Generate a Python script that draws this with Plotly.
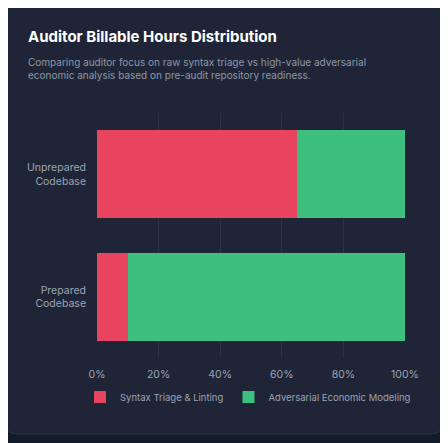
import plotly.graph_objects as go

categories = ["Prepared<br>Codebase", "Unprepared<br>Codebase"]
syntax = [10, 65]
adversarial = [90, 35]
tick_vals = [0, 20, 40, 60, 80, 100]
tick_text = ["0%", "20%", "40%", "60%", "80%", "100%"]

OFF = 8  # page body margin
W, H = 448, 443
L, R, T, B = 97 - OFF, W - 405 + OFF, 113 - OFF, H - 358 + OFF
pw, ph = W - L - R, H - T - B
def px(x): return (x - OFF - L) / pw
def py(y): return 1 - (y - OFF - T) / ph

fig = go.Figure()
fig.add_bar(y=categories, x=syntax, orientation="h", name="Syntax Triage & Linting",
            marker=dict(color="#e8445f", line_width=0))
fig.add_bar(y=categories, x=adversarial, orientation="h", name="Adversarial Economic Modeling",
            marker=dict(color="#3dbf7f", line_width=0))

x0, x1, y0, y1, r = 4, 444, 3, 434, 14
path = (f"M {px(x0+r)} {py(y0)} L {px(x1-r)} {py(y0)} Q {px(x1)} {py(y0)} {px(x1)} {py(y0+r)} "
        f"L {px(x1)} {py(y1-r)} Q {px(x1)} {py(y1)} {px(x1-r)} {py(y1)} "
        f"L {px(x0+r)} {py(y1)} Q {px(x0)} {py(y1)} {px(x0)} {py(y1-r)} "
        f"L {px(x0)} {py(y0+r)} Q {px(x0)} {py(y0)} {px(x0+r)} {py(y0)} Z")
fig.add_shape(type="path", path=path, xref="paper", yref="paper", layer="below",
              fillcolor="#1f2536", line=dict(color="#2a3142", width=1))

fig.add_annotation(text="<b>Auditor Billable Hours Distribution</b>", xref="paper", yref="paper",
                   x=px(26), y=py(36), xanchor="left", yanchor="middle", showarrow=False,
                   font=dict(size=15, color="#ffffff", family="Inter"))
fig.add_annotation(text="Comparing auditor focus on raw syntax triage vs high-value adversarial<br>economic analysis based on pre-audit repository readiness.",
                   xref="paper", yref="paper", x=px(26), y=py(68), xanchor="left", yanchor="middle",
                   align="left", showarrow=False,
                   font=dict(size=10, color="#8e97a8", family="Inter"))

fig.update_layout(
    width=W, height=H, barmode="stack", bargap=0.28,
    margin=dict(l=L, r=R, t=T, b=B),
    paper_bgcolor="#131a2a", plot_bgcolor="rgba(0,0,0,0)",
    font=dict(family="Inter", color="#9aa3b3", size=10.5),
    xaxis=dict(range=[0, 100], tickvals=tick_vals, ticktext=tick_text,
               showgrid=True, gridcolor="#2b3242", zeroline=False, showline=False,
               ticks="", ticklabelstandoff=8, fixedrange=True),
    yaxis=dict(showgrid=False, ticks="", ticklabelstandoff=10, fixedrange=True),
    legend=dict(orientation="h", x=px(80), xanchor="left", y=py(397), yanchor="middle",
                font=dict(size=9.5, color="#9aa3b3"), traceorder="normal",
                itemwidth=30, bgcolor="rgba(0,0,0,0)"),
    showlegend=True,
)
fig.write_html("out.html")
